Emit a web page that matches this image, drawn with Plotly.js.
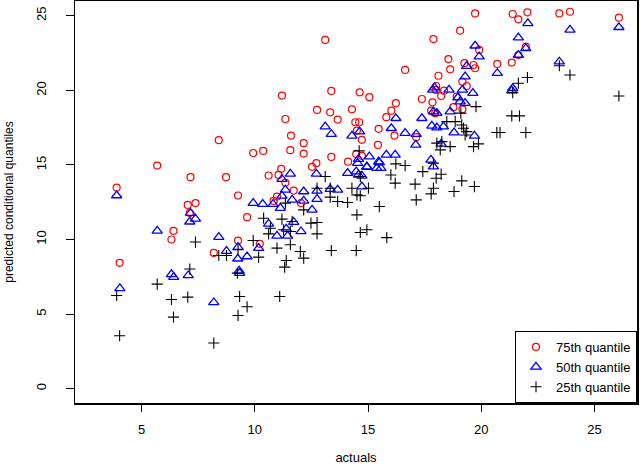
<!DOCTYPE html>
<html>
<head>
<meta charset="utf-8">
<script src="https://cdn.plot.ly/plotly-3.0.1.min.js"></script>
<style>
html, body { margin: 0; padding: 0; background: #fff; }
#plotter { width: 640px; height: 465px; }
</style>
</head>
<body>
<div id="plotter"></div>
<script>
// actuals vs predicted conditional quantiles
var q75x = [5.69, 7.16, 8.73, 3.90, 9.26, 7.04, 7.38, 7.13, 9.66, 6.41, 6.32, 9.26, 8.19, 4.03, 10.22,
    11.2, 11.35, 11.6, 8.41, 9.93, 10.37, 11.57, 11.17,
    13.11, 13.38, 14.63, 15.06, 12.75, 13.33, 14.29, 13.66, 14.44, 14.61, 14.51, 14.73, 15.47, 12.16,
    12.16, 13.38, 14.48, 14.73, 15.44, 14.12, 12.72, 12.53,
    10.61, 11.05, 11.35, 11.72, 10.98, 10.83, 12.04,
    19.73, 19.07, 17.89, 19.91, 18.55, 16.64, 19.26, 19.66, 19.73, 18.63, 20.71, 18.11, 19.17, 19.36,
    18.01, 18.0, 18.36, 18.23, 18.92, 17.38, 17.85, 16.23, 16.03, 15.81, 17.79, 17.97, 18.77, 19.17,
    16.17, 17.13,
    21.39, 21.64, 22.04, 23.45, 23.92, 26.08, 21.97, 21.64, 21.35];
var q75y = [14.96, 14.18, 14.18, 13.48, 12.95, 12.32, 12.44, 11.77, 11.50, 10.58, 10.0, 9.93, 9.11, 8.44, 9.71,
    19.65, 18.08, 16.97, 16.66, 15.8, 15.94, 15.99, 14.74,
    23.38, 19.96, 19.87, 19.54, 18.69, 18.53, 18.73, 18.04, 17.86, 17.86, 17.3, 16.68, 17.42, 16.46,
    15.76, 15.54, 15.74, 15.61, 16.34, 15.22, 15.12, 14.87,
    14.29, 14.33, 13.8, 13.28, 12.88, 12.59, 12.44,
    25.16, 24.0, 23.44, 22.71, 22.1, 21.37, 21.82, 21.7, 21.48, 21.41, 21.77, 20.98, 20.58, 20.29,
    20.29, 20.03, 19.98, 19.62, 19.58, 19.42, 19.2, 19.14, 18.64, 18.2, 18.64, 18.47, 18.87, 18.73,
    16.97, 16.86,
    25.12, 24.76, 25.23, 25.16, 25.27, 24.87, 22.93, 22.37, 21.86];

var q50x = [3.90, 9.93, 7.16, 7.38, 7.13, 5.69, 8.41, 9.26, 8.75, 9.25, 9.66, 10.17, 6.32, 6.42, 7.06,
    9.31, 9.33, 4.04, 8.19,
    11.57, 11.2, 12.72, 14.1, 14.48, 14.58, 14.73, 14.54, 14.95, 15.39, 11.35, 12.16, 12.75, 13.33,
    13.66, 14.73, 12.75, 12.16, 11.65, 11.2, 10.35, 10.81, 11.13, 12.53, 11.72, 10.61, 11.39, 12.04,
    10.98, 11.45,
    13.11, 13.38, 14.29, 14.63, 14.58, 15.06, 14.95, 15.47,
    19.73, 19.91, 20.71, 19.36, 19.29, 17.94, 17.86, 18.58, 19.17, 19.63, 18.97, 19.07, 19.29, 18.63,
    18.04, 17.89, 17.38, 16.23, 16.03, 16.64, 17.13, 17.82, 18.04, 18.33, 18.8, 19.7, 17.11, 18.23,
    15.81, 16.2, 15.5, 15.57, 17.78, 17.89,
    22.06, 23.92, 26.08, 21.64, 21.97, 21.64, 23.45, 21.39, 21.35];
var q50y = [12.95, 12.44, 11.77, 11.39, 11.19, 10.58, 10.16, 9.49, 9.22, 8.71, 8.86, 9.42, 7.66, 7.48, 7.59,
    7.9, 7.75, 6.72, 5.78,
    14.4, 14.05, 14.4, 14.45, 14.55, 14.33, 14.27, 15.12, 14.85, 14.78, 13.33, 13.22, 13.26, 13.38,
    13.33, 13.55, 12.71, 12.59, 12.66, 12.93, 12.37, 12.37, 12.1, 11.99, 11.17, 11.05, 10.72, 10.54,
    10.25, 10.25,
    17.57, 17.06, 16.95, 17.23, 15.39, 15.56, 14.89, 15.22,
    22.99, 22.26, 21.15, 21.63, 20.92, 20.18, 20.03, 20.03, 20.03, 19.81, 19.51, 19.24, 19.14, 18.57,
    18.47, 18.57, 18.13, 18.13, 17.46, 17.13, 17.06, 17.62, 17.5, 17.57, 17.17, 16.95, 16.34, 16.41,
    15.67, 15.67, 15.16, 14.78, 15.34, 14.89,
    24.49, 24.05, 24.23, 23.53, 22.82, 22.37, 21.92, 20.14, 19.98];

var q25x = [7.38, 9.93, 9.26, 8.41, 8.75, 10.17, 7.13, 9.23, 5.69, 3.90, 6.32, 7.04, 9.33, 9.66, 6.41,
    9.26, 4.03, 8.19,
    14.61,
    13.11, 13.33, 12.75, 14.66, 14.29, 15.02, 14.51, 14.66, 13.33, 13.66, 14.1, 15.5, 11.35, 12.16,
    14.51, 10.39, 11.2, 11.65, 12.48, 12.75, 10.69, 11.27, 11.57, 10.61, 12.75, 14.95, 14.66, 11.57,
    10.98, 12.01, 13.38, 14.48, 11.39, 12.16, 11.32, 11.1,
    19.77, 19.1, 18.48, 18.85, 19.14, 19.22, 19.36, 19.29, 20.69, 18.04, 18.26, 18.63, 19.88, 19.66,
    18.19, 16.23, 16.64, 17.89, 17.42, 18.23, 18.01, 16.01, 16.2, 17.08, 19.14, 19.7, 17.89, 17.79,
    18.8, 17.13, 15.83,
    23.45, 23.92, 22.04, 21.64, 21.39, 26.08, 21.35, 21.69, 21.97, 20.83];
var q25y = [9.83, 9.93, 9.31, 8.93, 8.93, 8.82, 8.02, 7.75, 7.01, 6.25, 5.98, 6.14, 6.18, 5.49, 4.8,
    4.91, 3.55, 3.06,
    15.94,
    14.22, 13.44, 13.44, 14.22, 13.44, 13.44, 12.99, 12.93, 12.84, 12.55, 12.48, 12.21, 12.44, 11.99,
    11.65, 11.43, 11.37, 11.21, 11.1, 11.14, 10.76, 10.65, 10.54, 10.38, 10.38, 10.65, 10.47, 9.65,
    9.42, 9.2, 9.26, 9.26, 8.59, 8.75, 8.15, 6.18,
    18.91, 18.47, 17.9, 17.9, 17.68, 17.46, 17.23, 17.01, 17.17, 16.46, 16.56, 16.23, 16.41, 16.23,
    16.01, 15.07, 14.96, 15.12, 14.55, 14.38, 14.11, 14.33, 13.78, 13.71, 13.93, 13.55, 13.44, 13.06,
    13.22, 12.66, 10.13,
    21.65, 21.03, 20.86, 20.48, 19.85, 19.62, 18.29, 18.29, 17.17, 17.17];

var seriesNames = ['75th quantile', '50th quantile', '25th quantile'];
var xTicks = [5, 10, 15, 20, 25];
var yTicks = [0, 5, 10, 15, 20, 25];

var font = 'Liberation Sans, Arial, Helvetica, sans-serif';

var plots = [
    {
        x: q75x, y: q75y, type: 'scatter', mode: 'markers', name: seriesNames[0],
        marker: {symbol: 'circle-open', size: 7, color: '#FF0000', line: {width: 1.2, color: '#FF0000'}}
    },
    {
        x: q50x, y: q50y, type: 'scatter', mode: 'markers', name: seriesNames[1],
        marker: {symbol: 'triangle-up-open', size: 9, color: '#0000FF', line: {width: 1.3, color: '#0000FF'}}
    },
    {
        x: q25x, y: q25y, type: 'scatter', mode: 'markers', name: seriesNames[2],
        marker: {symbol: 'cross-thin-open', size: 8, color: '#000000', line: {width: 1.1, color: '#000000'}}
    }
];

var layout = {
    width: 640,
    height: 465,
    paper_bgcolor: '#ffffff',
    plot_bgcolor: '#ffffff',
    font: {family: font, size: 13, color: '#000000'},
    showlegend: true,
    legend: {
        x: 1, xanchor: 'right',
        y: 0, yanchor: 'bottom',
        bgcolor: '#ffffff',
        bordercolor: '#000000',
        borderwidth: 1,
        font: {family: font, size: 13},
        tracegroupgap: 0
    },
    xaxis: {
        title: {text: 'actuals', font: {size: 13}, standoff: 20},
        range: [2.06, 26.88],
        tickvals: xTicks,
        tickfont: {size: 13},
        ticklabelstandoff: 7,
        ticks: 'outside', ticklen: 7, tickwidth: 1, tickcolor: '#000000',
        showgrid: false, zeroline: false,
        showline: true, mirror: true, linecolor: '#000000', linewidth: 1.5
    },
    yaxis: {
        title: {text: 'predicted conditional quantiles', font: {size: 12}, standoff: 18},
        range: [-0.96, 25.99],
        tickvals: yTicks,
        tickangle: -90,
        tickfont: {size: 13},
        ticklabelstandoff: 14,
        ticks: 'outside', ticklen: 8, tickwidth: 1, tickcolor: '#000000',
        showgrid: false, zeroline: false,
        showline: true, mirror: true, linecolor: '#000000', linewidth: 1.5
    },
    margin: {l: 75, r: 3, t: 1, b: 62}
};

Plotly.newPlot('plotter', plots, layout, {staticPlot: true});
</script>
</body>
</html>
